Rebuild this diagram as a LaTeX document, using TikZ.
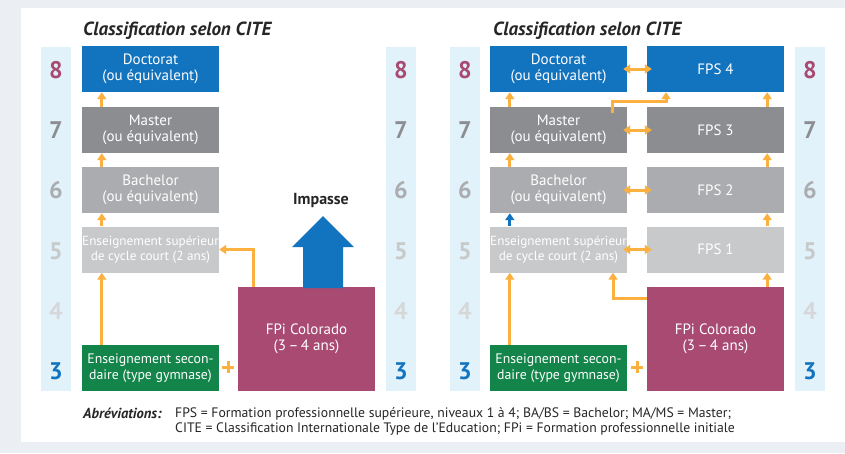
\documentclass[tikz,border=0pt]{standalone}
\usepackage{fontspec}
\setmainfont{PT Sans}
\usetikzlibrary{arrows.meta,calc}
\definecolor{bgGray}{HTML}{EBEFF3}
\definecolor{levBlue}{HTML}{E1F2FA}
\definecolor{cDoc}{HTML}{1273BE}
\definecolor{cMas}{HTML}{8C8D91}
\definecolor{cBac}{HTML}{ABACAF}
\definecolor{cEsc}{HTML}{C8C9CB}
\definecolor{cFour}{HTML}{D6D7D9}
\definecolor{cSec}{HTML}{14854A}
\definecolor{cFPi}{HTML}{A84A72}
\definecolor{cOr}{HTML}{FBB040}
\tikzset{
  box/.style={rectangle, inner sep=0pt, minimum width=137pt, minimum height=46pt, text=white, align=center, font=\fontsize{15}{16}\selectfont},
  escbox/.style={box, font=\fontsize{13.2}{15.5}\selectfont},
  secbox/.style={box, font=\fontsize{13.8}{16}\selectfont},
  bigbox/.style={box, minimum height=104pt},
  lev/.style={font=\fontsize{24}{24}\selectfont\bfseries},
  oarrow/.style={draw=cOr, line width=3pt, -{Triangle[width=9pt,length=7pt]}},
  odarrow/.style={draw=cOr, line width=3pt, {Triangle[width=9pt,length=7pt]}-{Triangle[width=9pt,length=7pt]}, shorten <=-4pt, shorten >=-5pt},
  barrow/.style={draw=cDoc, line width=3pt, -{Triangle[width=9pt,length=7pt]}},
  titletext/.style={font=\fontsize{19}{19}\selectfont\bfseries\itshape, text=black!85, anchor=west, inner sep=0pt},
  plus/.style={draw=cOr, line width=3pt}
}
\begin{document}
\begin{tikzpicture}[x=1pt,y=-1pt]
\fill[bgGray] (0,0) rectangle (845,453);
\fill[white] (21,8) rectangle (845,442);
\useasboundingbox (0,0) rectangle (845,453);

% level columns
\foreach \xa in {41,386,450,795}{
  \fill[levBlue] (\xa,47) rectangle (\xa+30,391);
}
\foreach \xc in {56,401,465,810}{
  \node[lev,text=cFPi] at (\xc,70) {8};
  \node[lev,text=cMas] at (\xc,130) {7};
  \node[lev,text=cBac] at (\xc,190) {6};
  \node[lev,text=cEsc] at (\xc,251) {5};
  \node[lev,text=cFour] at (\xc,311) {4};
  \node[lev,text=cDoc] at (\xc,371) {3};
}

% titles
\node[titletext] (t1) at (83,31) {Classification selon CITE};
\node[titletext] (t2) at (493,31) {Classification selon CITE};

% ===== left panel =====
\node[box,fill=cDoc] (docL) at (150.5,69) {Doctorat\\(ou équivalent)};
\node[box,fill=cMas] (masL) at (150.5,130) {Master\\(ou équivalent)};
\node[box,fill=cBac] (bacL) at (150.5,190) {Bachelor\\(ou équivalent)};
\node[escbox,fill=cEsc] (escL) at (150.5,249.5) {Enseignement supérieur\\de cycle court (2 ans)};
\node[secbox,fill=cSec] (secL) at (150.5,368) {Enseignement secon-\\daire (type gymnase)};
\node[bigbox,fill=cFPi] (fpiL) at (306.5,339) {FPi Colorado\\(3\,–\,4 ans)};

\draw[oarrow] ([xshift=20pt]masL.north west) -- ([xshift=20pt]docL.south west);
\draw[oarrow] ([xshift=20pt]bacL.north west) -- ([xshift=20pt]masL.south west);
\draw[oarrow] ([xshift=20pt]escL.north west) -- ([xshift=20pt]bacL.south west);
\draw[oarrow] ([xshift=20pt]secL.north west) -- ([xshift=20pt]escL.south west);
\draw[oarrow] ([xshift=16pt]fpiL.north west) |- (escL.east);

% impasse arrow
\fill[cDoc] (303,288) -- (303,247) -- (292,247) -- (323,216) -- (354,247) -- (343,247) -- (343,288) -- cycle;
\node[font=\fontsize{16}{16}\selectfont\bfseries, text=black!85] (imp) at (321,200) {Impasse};

% plus
\draw[plus] (222,367) -- (234,367) (228,361) -- (228,373);

% ===== right panel =====
\node[box,fill=cDoc] (docR) at (558.5,69) {Doctorat\\(ou équivalent)};
\node[box,fill=cMas] (masR) at (558.5,130) {Master\\(ou équivalent)};
\node[box,fill=cBac] (bacR) at (558.5,190) {Bachelor\\(ou équivalent)};
\node[escbox,fill=cEsc] (escR) at (558.5,249.5) {Enseignement supérieur\\de cycle court (2 ans)};
\node[secbox,fill=cSec] (secR) at (558.5,368) {Enseignement secon-\\daire (type gymnase)};

\node[box,fill=cDoc] (fps4) at (715.5,69) {FPS 4};
\node[box,fill=cMas] (fps3) at (715.5,130) {FPS 3};
\node[box,fill=cBac] (fps2) at (715.5,190) {FPS 2};
\node[box,fill=cEsc] (fps1) at (715.5,249.5) {FPS 1};
\node[bigbox,fill=cFPi] (fpiR) at (715.5,339) {FPi Colorado\\(3\,–\,4 ans)};

\draw[odarrow] (docR.east) -- (fps4.west);
\draw[odarrow] (masR.east) -- (fps3.west);
\draw[odarrow] (bacR.east) -- (fps2.west);
\draw[odarrow] (escR.east) -- (fps1.west);

\draw[oarrow] ([xshift=20pt]masR.north west) -- ([xshift=20pt]docR.south west);
\draw[oarrow] ([xshift=20pt]bacR.north west) -- ([xshift=20pt]masR.south west);
\draw[barrow] ([xshift=20pt]escR.north west) -- ([xshift=20pt]bacR.south west);
\draw[oarrow] ([xshift=20pt]secR.north west) -- ([xshift=20pt]escR.south west);

\draw[oarrow] ([xshift=-17pt]fps3.north east) -- ([xshift=-17pt]fps4.south east);
\draw[oarrow] ([xshift=-17pt]fps2.north east) -- ([xshift=-17pt]fps3.south east);
\draw[oarrow] ([xshift=-17pt]fps1.north east) -- ([xshift=-17pt]fps2.south east);
\draw[oarrow] ([xshift=-17pt]fpiR.north east) -- ([xshift=-17pt]fps1.south east);

\draw[oarrow] ([xshift=53.5pt,yshift=-6pt]masR.north) -- ++(0,-11) -| ([xshift=-49.5pt]fps4.south);
\draw[oarrow] ([yshift=-12pt]fpiR.north west) -| ([xshift=54.5pt]escR.south);

\draw[plus] (631,367) -- (643,367) (637,361) -- (637,373);

% footer
\node[font=\fontsize{14.5}{14.5}\selectfont\bfseries\itshape, text=black!85, anchor=base west, inner sep=0pt] (abr) at (83,418) {Abréviations:};
\node[font=\fontsize{13.7}{15}\selectfont, text=black!85, anchor=north west, inner sep=0pt, align=left] (abrtxt) at (175,407.5) {FPS = Formation professionnelle supérieure, niveaux 1 à 4; BA/BS = Bachelor; MA/MS = Master;\\CITE = Classification Internationale Type de l’Education; FPi = Formation professionnelle initiale};
\end{tikzpicture}
\end{document}
